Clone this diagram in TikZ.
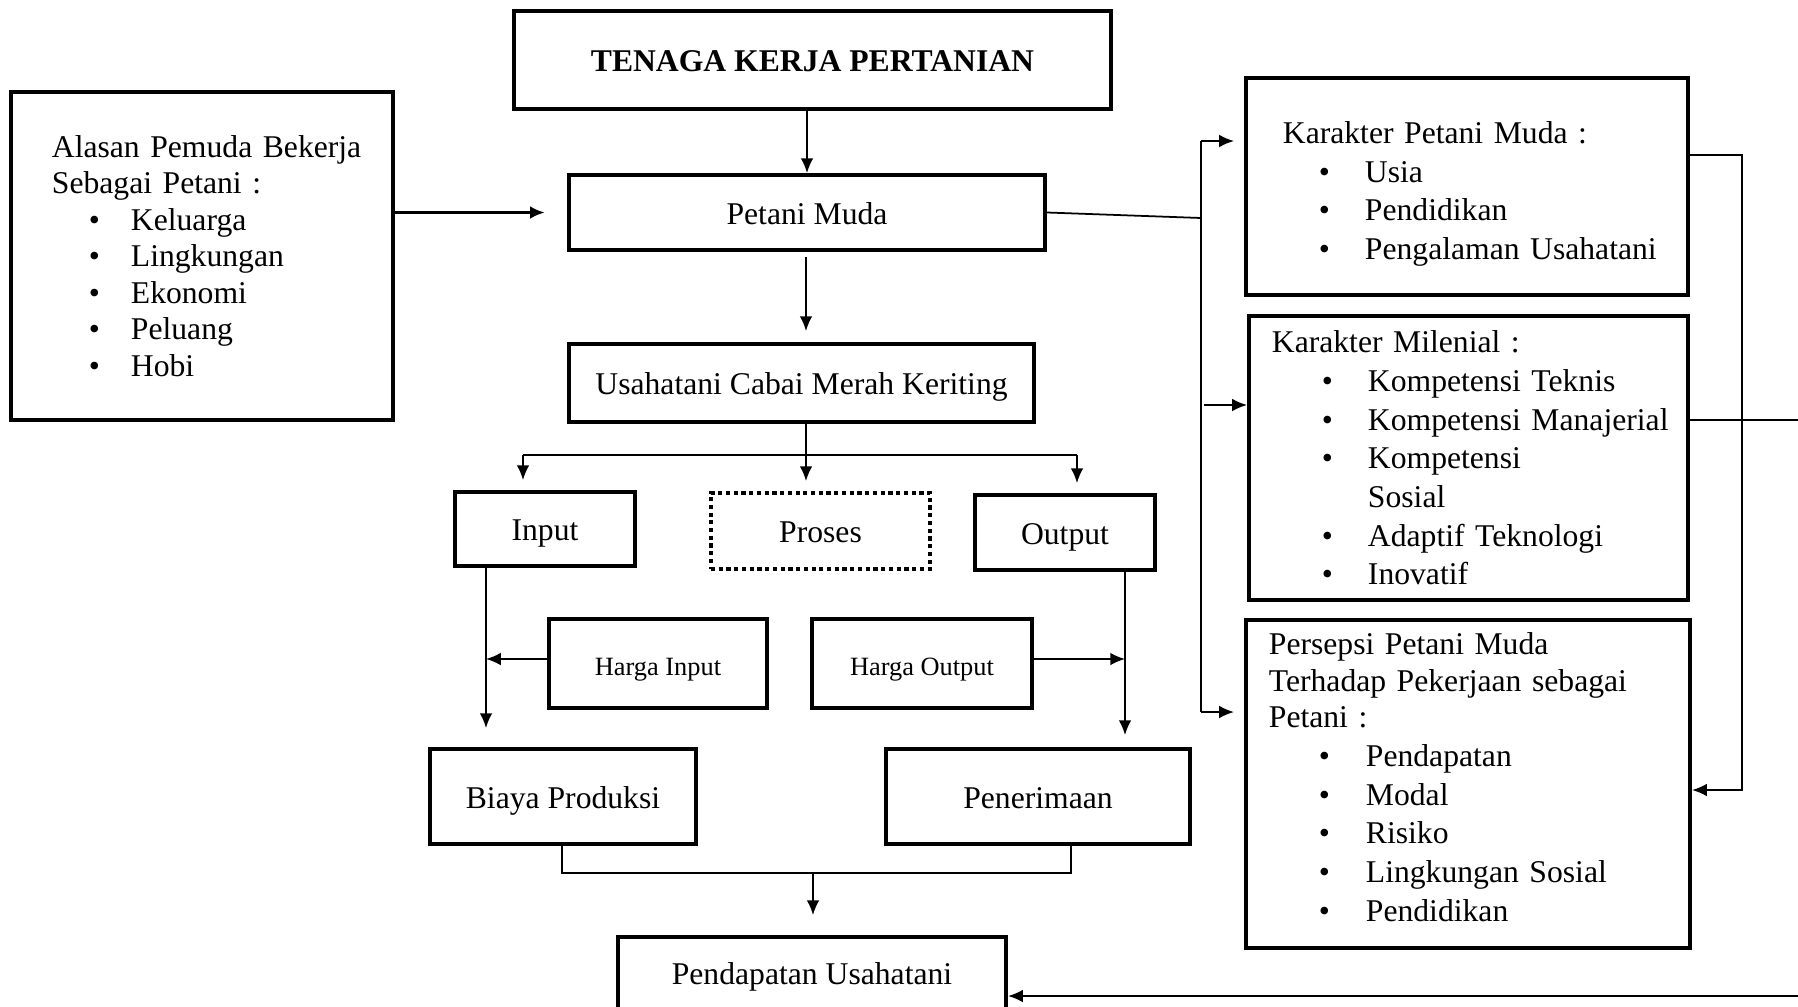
\documentclass[tikz,border=0pt]{standalone}
\usepackage{fontspec}
\setmainfont{Liberation Serif}
\usepackage{tikz}
\usetikzlibrary{arrows.meta}
\tikzstyle{Box}=[draw,line width=1.1pt,inner sep=0pt,align=center,text height=0.68em,text depth=0pt,
font=\fontsize{9}{11}\selectfont]
\tikzstyle{SmallBox}=[Box,font=\fontsize{7.5}{9}\selectfont]
\tikzstyle{DotBox}=[Box,dash pattern=on 1.2pt off 1pt]
\tikzstyle{ListBox}=[draw,line width=1.1pt,inner sep=0pt,align=left,font=\fontsize{9}{11}\selectfont]
\tikzstyle{Link}=[line width=0.5pt]
\tikzstyle{LinkArrow}=[Link,-{Latex[length=4.2pt,width=3.6pt]}]
\newcommand{\Pad}[1]{\leftskip=#1\relax}
\newcommand{\Bul}[3][0.46cm]{\makebox[#2]{}\makebox[#1][l]{\textbullet}#3}

\begin{document}
\begin{tikzpicture}[x=0.01cm,y=-0.01cm]
    \useasboundingbox(0,0)rectangle(1798,1006);
    % middle column
    \node[Box,minimum width=5.97cm,minimum height=0.98cm](tenaga)at(812.5,60){\textbf{TENAGA KERJA PERTANIAN}};
    \node[Box,minimum width=4.76cm,minimum height=0.75cm](petani)at(807,212.5){Petani Muda};
    \node[Box,minimum width=4.65cm,minimum height=0.78cm](usaha)at(801.5,383){Usahatani Cabai Merah Keriting};
    \node[Box,minimum width=1.80cm,minimum height=0.74cm](input)at(545,529){Input};
    \node[DotBox,minimum width=2.19cm,minimum height=0.76cm](proses)at(820.5,531){Proses};
    \node[Box,minimum width=1.80cm,minimum height=0.75cm](output)at(1065,532.5){Output};
    \node[SmallBox,minimum width=2.18cm,minimum height=0.89cm](hinput)at(658,663.5){Harga Input};
    \node[SmallBox,minimum width=2.20cm,minimum height=0.89cm](houtput)at(922,663.5){Harga Output};
    \node[Box,minimum width=2.66cm,minimum height=0.95cm](biaya)at(563,796.5){Biaya Produksi};
    \node[Box,minimum width=3.04cm,minimum height=0.95cm](terima)at(1038,796.5){Penerimaan};
    \node[Box,minimum width=3.88cm,minimum height=0.72cm](pendapatan)at(812,973){Pendapatan Usahatani};
    % left and right lists
    \node[ListBox,text width=3.82cm,minimum height=3.28cm,font=\fontsize{9}{10.4}\selectfont](alasan)at(202,256){\Pad{0.41cm}Alasan Pemuda Bekerja\\
        Sebagai Petani :\\
        \Bul[0.42cm]{0.37cm}{Keluarga}\\
        \Bul[0.42cm]{0.37cm}{Lingkungan}\\
        \Bul[0.42cm]{0.37cm}{Ekonomi}\\
        \Bul[0.42cm]{0.37cm}{Peluang}\\
        \Bul[0.42cm]{0.37cm}{Hobi}\par};
    \node[ListBox,text width=4.42cm,minimum height=2.17cm](kpm)at(1467,186.5){\Pad{0.37cm}\rule{0pt}{10.5pt}Karakter Petani Muda :\\
        \Bul{0.36cm}{Usia}\\
        \Bul{0.36cm}{Pendidikan}\\
        \Bul{0.36cm}{Pengalaman Usahatani}\par};
    \node[ListBox,text width=4.39cm,minimum height=2.84cm](milenial)at(1468.5,458){\Pad{0.23cm}Karakter Milenial :\\
        \Bul{0.50cm}{Kompetensi Teknis}\\
        \Bul{0.50cm}{Kompetensi Manajerial}\\
        \Bul{0.50cm}{Kompetensi}\\
        \makebox[0.96cm]{}Sosial\\
        \Bul{0.50cm}{Adaptif Teknologi}\\
        \Bul{0.50cm}{Inovatif}\par};
    \node[ListBox,text width=4.44cm,minimum height=3.28cm](persepsi)at(1468,784){\Pad{0.23cm}Persepsi Petani Muda\\[-0.6pt]
        Terhadap Pekerjaan sebagai\\[-0.6pt]
        Petani :\\
        \Bul[0.47cm]{0.50cm}{Pendapatan}\\
        \Bul[0.47cm]{0.50cm}{Modal}\\
        \Bul[0.47cm]{0.50cm}{Risiko}\\
        \Bul[0.47cm]{0.50cm}{Lingkungan Sosial}\\
        \Bul[0.47cm]{0.50cm}{Pendidikan}\rule[-4pt]{0pt}{4pt}\par};
    % junction points
    \coordinate(split)at(806,455);
    \coordinate(sl)at(523,455);
    \coordinate(sr)at(1077,455);
    \coordinate(inx)at(486,659);
    \coordinate(outx)at(1125,659);
    \coordinate(jl)at(562,873);
    \coordinate(jm)at(813,873);
    \coordinate(jr)at(1071,873);
    \coordinate(trunk)at(1201,218);
    \coordinate(tk1)at(1201,141);
    \coordinate(tk2)at(1204,405);
    \coordinate(tk3)at(1201,712);
    \coordinate(rk)at(1742,155);
    \coordinate(rp)at(1742,790);
    \coordinate(ro)at(1840,420);
    \coordinate(rb)at(1840,996);
    % connectors
    \draw[LinkArrow](petani.north|-tenaga.south)--(petani.north);
    \draw[LinkArrow,line width=0.9pt,shorten >=0.22cm](alasan.east|-petani.west)--(petani.west);
    \draw[LinkArrow,shorten <=0.05cm,shorten >=0.11cm](petani.south-|split)--(usaha.north-|split);
    \draw[Link](split|-usaha.south)--(split);
    \draw[Link](sl)--(sr);
    \draw[LinkArrow,shorten >=0.1cm](sl)--(sl|-input.north);
    \draw[LinkArrow,shorten >=0.1cm](split)--(split|-proses.north);
    \draw[LinkArrow,shorten >=0.1cm](sr)--(sr|-output.north);
    \draw[LinkArrow,shorten >=0.19cm](inx|-input.south)--(inx|-biaya.north);
    \draw[LinkArrow](hinput.west|-inx)--(inx);
    \draw[LinkArrow,shorten >=0.12cm](outx|-output.south)--(outx|-terima.north);
    \draw[LinkArrow](houtput.east|-outx)--(outx);
    \draw[Link](jl|-biaya.south)--(jl)--(jr)--(jr|-terima.south);
    \draw[LinkArrow,shorten >=0.2cm](jm)--(jm|-pendapatan.north);
    \draw[Link](petani.east)--(trunk);
    \draw[Link](tk1)--(tk3);
    \draw[LinkArrow,shorten >=0.1cm](tk1)--(tk1-|kpm.west);
    \draw[LinkArrow](tk2)--(tk2-|milenial.west);
    \draw[LinkArrow,shorten >=0.1cm](tk3)--(tk3-|persepsi.west);
    \draw[LinkArrow](kpm.east|-rk)--(rk)--(rp)--(rp-|persepsi.east);
    \draw[LinkArrow](milenial.east|-ro)--(ro)--(rb)--(rb-|pendapatan.east);
\end{tikzpicture}
\end{document}
